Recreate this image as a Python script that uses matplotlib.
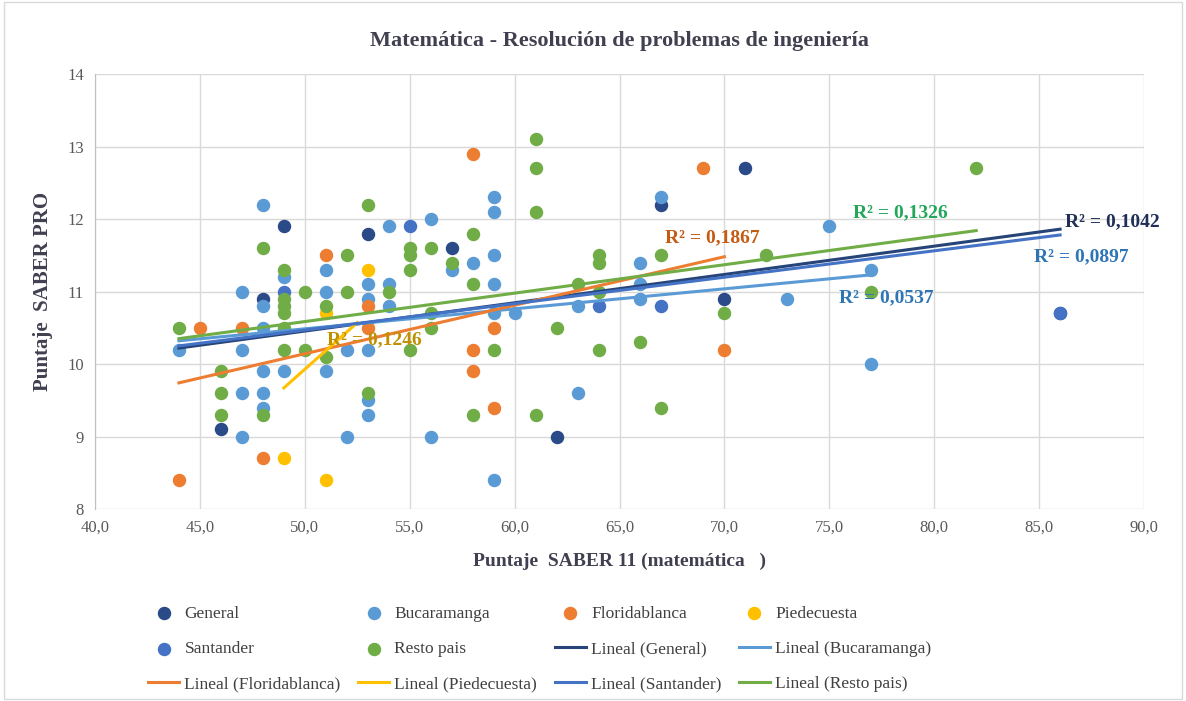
import matplotlib.pyplot as plt
from matplotlib.ticker import FuncFormatter

plt.rcParams['font.family'] = ['Liberation Serif', 'DejaVu Serif']

# Datos (puntaje SABER 11 matemática, puntaje SABER PRO)
general_x = [46, 48, 49, 53, 57, 62, 67, 70, 71, 86]
general_y = [9.1, 10.9, 11.9, 11.8, 11.6, 9.0, 12.2, 10.9, 12.7, 10.7]

santander_x = [49, 55, 64, 67, 86]
santander_y = [11.0, 11.9, 10.8, 10.8, 10.7]

bucaramanga_x = [44, 47, 47, 47, 47, 48, 48, 48, 48, 48, 48, 49, 49, 51, 51, 51,
                 52, 52, 53, 53, 53, 53, 53, 54, 54, 54, 56, 56, 57, 58,
                 59, 59, 59, 59, 59, 59, 60, 63, 63, 66, 66, 66, 67, 73, 75, 77, 77]
bucaramanga_y = [10.2, 11.0, 10.2, 9.6, 9.0, 12.2, 10.8, 10.5, 9.9, 9.6, 9.4, 11.2, 9.9, 11.3, 11.0, 9.9,
                 10.2, 9.0, 11.1, 10.9, 10.2, 9.5, 9.3, 11.9, 11.1, 10.8, 12.0, 9.0, 11.3, 11.4,
                 12.3, 12.1, 11.5, 11.1, 10.7, 8.4, 10.7, 10.8, 9.6, 11.4, 11.1, 10.9, 12.3, 10.9, 11.9, 11.3, 10.0]

floridablanca_x = [44, 45, 47, 48, 51, 53, 53, 58, 58, 58, 59, 59, 69, 70]
floridablanca_y = [8.4, 10.5, 10.5, 8.7, 11.5, 10.8, 10.5, 12.9, 10.2, 9.9, 10.5, 9.4, 12.7, 10.2]

piedecuesta_x = [49, 51, 51, 53]
piedecuesta_y = [8.7, 10.7, 8.4, 11.3]

resto_x = [44, 46, 46, 46, 48, 48, 49, 49, 49, 49, 49, 49, 50, 50, 51, 51, 52, 52,
           53, 53, 54, 55, 55, 55, 55, 56, 56, 56, 57, 58, 58, 58, 59,
           61, 61, 61, 61, 62, 63, 64, 64, 64, 64, 66, 67, 67, 70, 72, 77, 82]
resto_y = [10.5, 9.9, 9.6, 9.3, 11.6, 9.3, 11.3, 10.9, 10.8, 10.7, 10.5, 10.2, 11.0, 10.2, 10.8, 10.1, 11.5, 11.0,
           12.2, 9.6, 11.0, 11.6, 11.5, 11.3, 10.2, 11.6, 10.7, 10.5, 11.4, 11.8, 11.1, 9.3, 10.2,
           13.1, 12.7, 12.1, 9.3, 10.5, 11.1, 11.5, 11.4, 11.0, 10.2, 10.3, 11.5, 9.4, 10.7, 11.5, 11.0, 12.7]

# Líneas de tendencia (extremos) y R²
trend_names = ['General', 'Bucaramanga', 'Floridablanca', 'Piedecuesta', 'Santander', 'Resto pais']
trend_x = [[44, 86], [44, 77], [44, 70], [49, 52.5], [44, 86], [44, 82]]
trend_y = [[10.22, 11.86], [10.32, 11.23], [9.74, 11.48], [9.67, 10.57], [10.25, 11.78], [10.35, 11.84]]
r2_text = ['R² = 0,1042', 'R² = 0,0537', 'R² = 0,1867', 'R² = 0,1246', 'R² = 0,0897', 'R² = 0,1326']
r2_pos = [(88.5, 11.96), (77.7, 10.92), (69.4, 11.74), (53.3, 10.33), (87.0, 11.48), (78.4, 12.08)]

c_general = '#2A4A88'
c_buc = '#5B9BD5'
c_flo = '#ED7D31'
c_pie = '#FFC000'
c_san = '#4472C4'
c_resto = '#70AD47'
line_colors = ['#264478', c_buc, c_flo, c_pie, c_san, c_resto]
r2_colors = ['#1F2F55', '#2E75B6', '#C55A11', '#BF9000', '#2E75B6', '#21A65A']

fig = plt.figure(figsize=(11.86, 7.01), dpi=100)
ax = fig.add_axes([0.0801, 0.2739, 0.8845, 0.6205])

ms = 75
handles = []
handles.append(ax.scatter(general_x, general_y, s=ms, color=c_general, label='General', zorder=3))
handles.append(ax.scatter(bucaramanga_x, bucaramanga_y, s=ms, color=c_buc, label='Bucaramanga', zorder=3))
handles.append(ax.scatter(floridablanca_x, floridablanca_y, s=ms, color=c_flo, label='Floridablanca', zorder=3))
handles.append(ax.scatter(piedecuesta_x, piedecuesta_y, s=ms, color=c_pie, label='Piedecuesta', zorder=3))
handles.append(ax.scatter(santander_x, santander_y, s=ms, color=c_san, label='Santander', zorder=3))
handles.append(ax.scatter(resto_x, resto_y, s=ms, color=c_resto, label='Resto pais', zorder=3))

for name, xs, ys, col in zip(trend_names, trend_x, trend_y, line_colors):
    h, = ax.plot(xs, ys, color=col, lw=2.2, label=f'Lineal ({name})', zorder=4)
    handles.append(h)

for txt, (px, py), col in zip(r2_text, r2_pos, r2_colors):
    ax.text(px, py, txt, color=col, fontsize=14, fontweight='bold', ha='center', va='center',
            zorder=5, clip_on=False)

ax.set_xlim(40, 90)
ax.set_ylim(8, 14)
ax.set_xticks(range(40, 91, 5))
ax.set_yticks(range(8, 15))
ax.xaxis.set_major_formatter(FuncFormatter(lambda v, p: f'{v:.1f}'.replace('.', ',')))
ax.grid(True, color='#D9D9D9', lw=1)
ax.set_axisbelow(True)
for s in ['top', 'right', 'bottom']:
    ax.spines[s].set_visible(False)
ax.spines['left'].set_color('#BFBFBF')
ax.tick_params(length=0, labelsize=12, colors='#595959', pad=8)

ax.set_title('Matemática - Resolución de problemas de ingeniería', fontsize=16, fontweight='bold',
             color='#404050', pad=20)
ax.set_xlabel('Puntaje  SABER 11 (matemática   )', fontsize=14, fontweight='bold', color='#404050', labelpad=12)
ax.set_ylabel('Puntaje  SABER PRO', fontsize=15, fontweight='bold', color='#404050', labelpad=10)

# leyenda en orden por filas
order = [r * 4 + c for c in range(4) for r in range(3)]
fig.legend([handles[i] for i in order], [handles[i].get_label() for i in order],
           loc='center', bbox_to_anchor=(0.455, 0.074), ncol=4, frameon=False,
           fontsize=12.5, labelspacing=1.1, columnspacing=1.0, handlelength=1.8,
           handletextpad=0.3, labelcolor='#404040')

fig.patches.append(plt.Rectangle((0.003, 0.003), 0.994, 0.994, transform=fig.transFigure,
                                 fill=False, edgecolor='#D9D9D9', lw=1))

fig.savefig('out.png', dpi=100)
